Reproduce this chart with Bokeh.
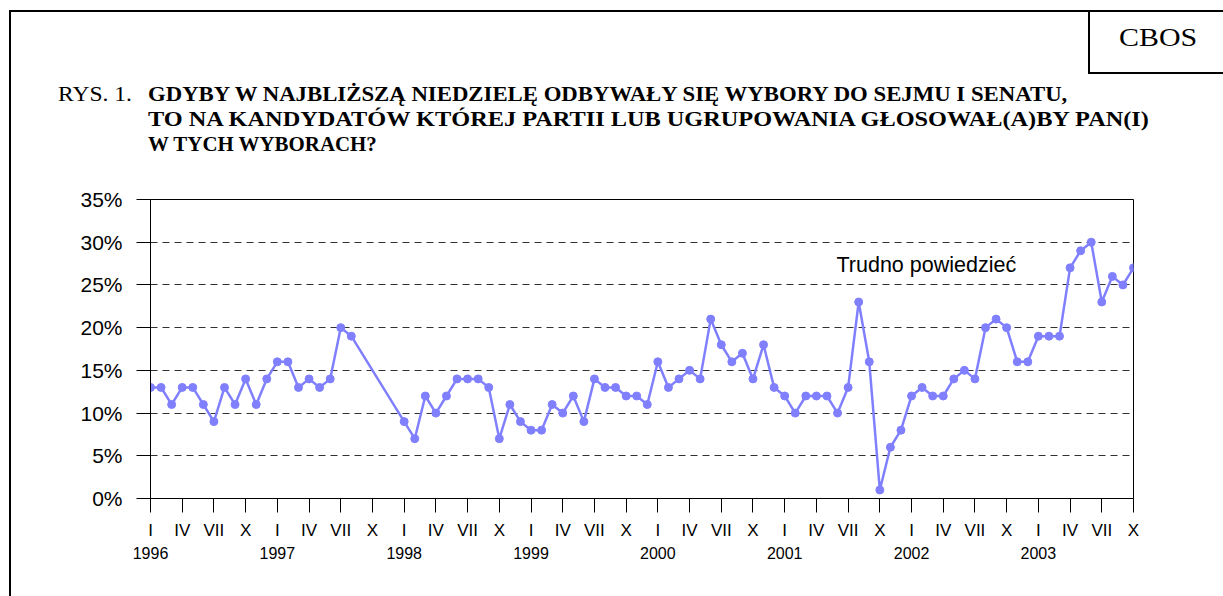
from bokeh.plotting import figure
from bokeh.models import (FixedTicker, LinearAxis, Label, Range1d, Div,
                          ColumnDataSource)
from bokeh.layouts import column, row
from bokeh.embed import file_html
from bokeh.resources import INLINE

# ---------------- data ----------------
dates = (
    ["1996-%02d" % m for m in range(1, 13)]
    + ["1997-%02d" % m for m in range(1, 9)]
    + ["1998-%02d" % m for m in range(1, 13)]
    + ["1999-%02d" % m for m in range(1, 13)]
    + ["2000-%02d" % m for m in range(1, 13)]
    + ["2001-%02d" % m for m in range(1, 13)]
    + ["2002-%02d" % m for m in range(1, 13)]
    + ["2003-%02d" % m for m in range(1, 11)]
)
values_1996 = [13, 13, 11, 13, 13, 11, 9, 13, 11, 14, 11, 14]
values_1997 = [16, 16, 13, 14, 13, 14, 20, 19]
values_1998 = [9, 7, 12, 10, 12, 14, 14, 14, 13, 7, 11, 9]
values_1999 = [8, 8, 11, 10, 12, 9, 14, 13, 13, 12, 12, 11]
values_2000 = [16, 13, 14, 15, 14, 21, 18, 16, 17, 14, 18, 13]
values_2001 = [12, 10, 12, 12, 12, 10, 13, 23, 16, 1, 6, 8]
values_2002 = [12, 13, 12, 12, 14, 15, 14, 20, 21, 20, 16, 16]
values_2003 = [19, 19, 19, 27, 29, 30, 23, 26, 25, 27]
values = (values_1996 + values_1997 + values_1998 + values_1999 + values_2000
          + values_2001 + values_2002 + values_2003)

month_labels = ["I", "IV", "VII", "X"]
years = ["1996", "1997", "1998", "1999", "2000", "2001", "2002", "2003"]
y_ticks = [0, 5, 10, 15, 20, 25, 30, 35]
series_label = "Trudno powiedzieć"

title_prefix = "RYS. 1."
title_lines = [
    "GDYBY W NAJBLIŻSZĄ NIEDZIELĘ ODBYWAŁY SIĘ WYBORY DO SEJMU I SENATU,",
    "TO NA KANDYDATÓW KTÓREJ PARTII LUB UGRUPOWANIA GŁOSOWAŁ(A)BY PAN(I)",
    "W TYCH WYBORACH?",
]
source_label = "CBOS"

# ---------------- transform ----------------
def month_index(d):
    y, m = d.split("-")
    return (int(y) - 1996) * 12 + int(m) - 1

x = [month_index(d) for d in dates]
src = ColumnDataSource(dict(x=x, y=values))
last_month = month_index("2003-10")

# ---------------- layout geometry (page pixels) ----------------
PW, PH = 1223, 596
HEAD_H = 185          # header block height
STRIP_W = 11          # left strip carrying the page border
FL, FR, FT, FB = 150, 1133, 199, 498   # chart frame edges on the page

# ---------------- header (HTML) ----------------
def box(left, top, w, h):
    return (f'<div style="position:absolute;left:{left}px;top:{top}px;'
            f'width:{w}px;height:{h}px;background:#000;"></div>')

def text(t, left, top, size, sx=1.0, bold=False, extra=""):
    weight = "bold" if bold else "normal"
    return (f'<div style="position:absolute;left:{left}px;top:{top}px;font-size:{size}px;'
            f'font-weight:{weight};line-height:25px;white-space:nowrap;'
            f'transform:scaleX({sx});transform-origin:0 0;{extra}">{t}</div>')

line_scale = [1.035, 1.105, 0.95]
head_html = (
    f'<div style="position:relative;width:{PW}px;height:{HEAD_H}px;overflow:hidden;'
    f'font-family:\'Liberation Serif\',serif;color:#000;">'
    + box(10, 10, PW - 10, 2)          # top rule
    + box(9, 10, 2, HEAD_H - 10)       # left rule
    + box(1088, 10, 2, 64)             # CBOS box left side
    + box(1088, 72, PW - 1088, 2)      # CBOS box bottom
    + text(source_label, 1119, 25, 26, sx=1.15)
    + text(title_prefix, 58, 81, 22, sx=1.07)
    + "".join(text(t, 148, 81 + 25 * i, 22, sx=line_scale[i], bold=True)
              for i, t in enumerate(title_lines))
    + '</div>'
)
header = Div(text=head_html, width=PW, height=HEAD_H, margin=0)

strip_html = (f'<div style="position:relative;width:{STRIP_W}px;height:{PH - HEAD_H}px;">'
              + box(9, 0, 2, PH - HEAD_H) + '</div>')
strip = Div(text=strip_html, width=STRIP_W, height=PH - HEAD_H, margin=0)

# ---------------- figure ----------------
W, H = PW - STRIP_W, PH - HEAD_H
p = figure(width=W, height=H, output_backend="svg", toolbar_location=None,
           x_range=Range1d(0, last_month), y_range=Range1d(0, 35),
           min_border_left=FL - STRIP_W, min_border_right=PW - FR,
           min_border_top=FT - HEAD_H, min_border_bottom=PH - FB, margin=0)
p.background_fill_color = "white"
p.border_fill_color = "white"
p.outline_line_color = "black"
p.outline_line_width = 1

LINE = "#8080FF"
p.line("x", "y", source=src, line_color=LINE, line_width=2.5)
p.scatter("x", "y", source=src, size=8, fill_color=LINE, line_color=LINE)

# y axis
p.yaxis.ticker = FixedTicker(ticks=y_ticks)
p.yaxis.major_label_overrides = {t: f"{t}%" for t in y_ticks}
p.yaxis.major_label_text_font = "Liberation Sans"
p.yaxis.major_label_text_font_size = "21px"
p.yaxis.major_label_text_color = "black"
p.yaxis.major_tick_out = 14
p.yaxis.major_tick_in = 0
p.yaxis.minor_tick_line_color = None
p.yaxis.major_label_standoff = 14
p.yaxis.axis_line_color = "black"
p.yaxis.major_tick_line_color = "black"

# x axis: months
xt = list(range(0, last_month + 1, 3))
p.xaxis.ticker = FixedTicker(ticks=xt)
p.xaxis.major_label_overrides = {t: month_labels[(t % 12) // 3] for t in xt}
p.xaxis.major_label_text_font = "Liberation Sans"
p.xaxis.major_label_text_font_size = "17px"
p.xaxis.major_label_text_color = "black"
p.xaxis.major_tick_out = 14
p.xaxis.major_tick_in = 0
p.xaxis.minor_tick_line_color = None
p.xaxis.major_label_standoff = 8
p.xaxis.axis_line_color = "black"
p.xaxis.major_tick_line_color = "black"

# x axis: years
yt = list(range(0, last_month + 1, 12))
yax = LinearAxis(ticker=FixedTicker(ticks=yt),
                 major_label_overrides={t: years[t // 12] for t in yt},
                 axis_line_color=None, major_tick_line_color=None,
                 minor_tick_line_color=None, major_tick_out=0, major_tick_in=0,
                 major_label_standoff=4,
                 major_label_text_font="Liberation Sans",
                 major_label_text_font_size="16px",
                 major_label_text_color="black")
p.add_layout(yax, "below")

# grid
p.xgrid.visible = False
p.ygrid.ticker = FixedTicker(ticks=y_ticks[1:-1])
p.ygrid.grid_line_color = "#333333"
p.ygrid.grid_line_dash = "7 5"
p.ygrid.grid_line_width = 1

# series label inside the frame (page pixels -> data units)
XS = (FR - FL) / last_month
YS = (FB - FT) / 35.0
p.add_layout(Label(x=(836 - FL) / XS, y=(FB - 264) / YS, text=series_label,
                   text_font="Liberation Sans", text_font_size="21.5px",
                   text_baseline="alphabetic", text_color="black"))

layout = column(header, row(strip, p, spacing=0), spacing=0)
open("out.html", "w").write(file_html(layout, INLINE))
